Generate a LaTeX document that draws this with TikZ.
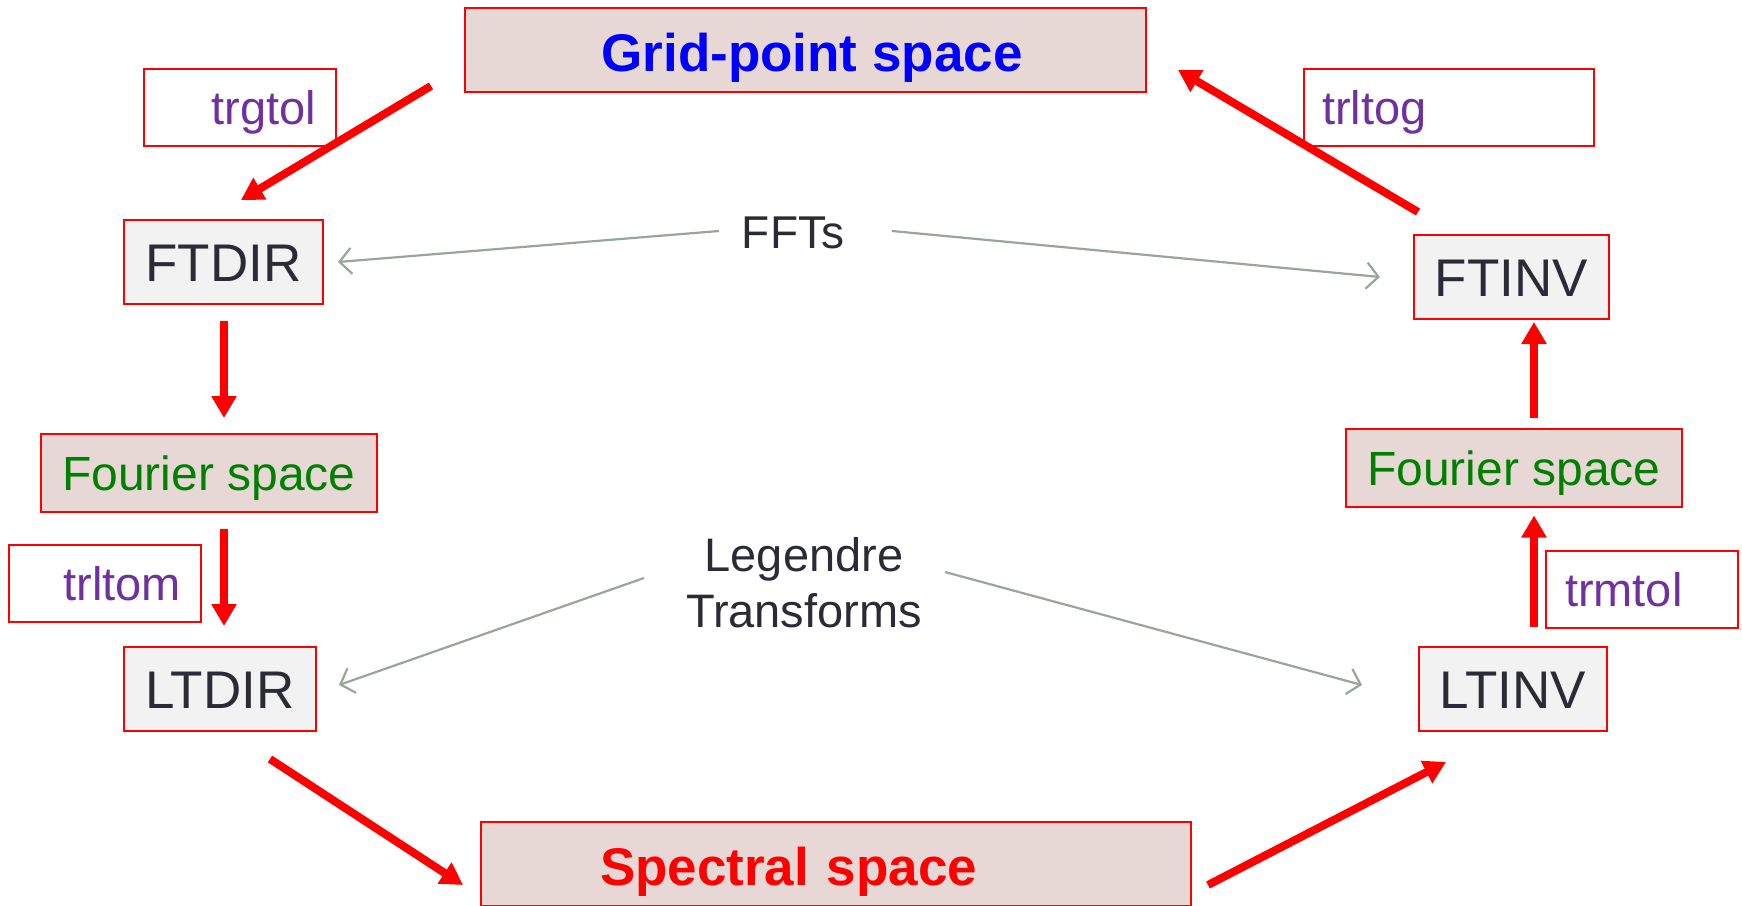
\documentclass[tikz,border=0pt]{standalone}
\usepackage{fontspec}
\setmainfont{Liberation Sans}
\usetikzlibrary{arrows.meta,calc}
\definecolor{boxred}{HTML}{FF0000}
\definecolor{spacefill}{HTML}{E8D8D5}
\definecolor{opfill}{HTML}{F2F2F2}
\definecolor{darktext}{HTML}{2B2B36}
\definecolor{purplec}{HTML}{7030A0}
\definecolor{greenc}{HTML}{008000}
\definecolor{gridblue}{HTML}{0000FF}
\definecolor{grayc}{HTML}{96A69B}
\newcommand\fntbig{\fontsize{53}{62}\selectfont\bfseries}
\newcommand\fntop{\fontsize{53}{60}\selectfont}
\newcommand\fntfour{\fontsize{48}{56}\selectfont}
\newcommand\fntlbl{\fontsize{47}{56}\selectfont}
\newcommand\fntffts{\fontsize{46}{56}\selectfont}
\tikzset{
  spacebox/.style={draw=boxred, line width=2pt, fill=spacefill, inner sep=0pt, font=\fntbig, text height=42pt, text depth=0pt},
  fourbox/.style={draw=boxred, line width=2pt, fill=spacefill, inner sep=0pt, font=\fntfour, text=greenc, text height=35.5pt, text depth=0pt, minimum width=336pt, minimum height=78pt},
  opbox/.style={draw=boxred, line width=2pt, fill=opfill, inner sep=0pt, font=\fntop, text=darktext, text height=39pt, text depth=0pt, minimum height=84pt},
  namebox/.style={draw=boxred, line width=2pt, fill=white, inner ysep=0pt, font=\fntlbl, text=purplec, text height=34pt, text depth=0pt, minimum height=77pt},
  flow/.style={draw=boxred, line width=8pt, -{Triangle[length=22pt,width=24pt]}},
  transf/.style={draw=grayc, line width=2.2pt, -{Straight Barb[length=12pt,width=26pt]}},
  plain/.style={font=\fntffts, text=darktext, inner sep=0pt}
}
\begin{document}
\begin{tikzpicture}[x=1pt,y=-1pt]
\path[use as bounding box, clip] (0,0) rectangle (1742,905);

% space boxes
\node[spacebox, text=gridblue, minimum width=681pt, minimum height=84pt] (grid) at (805.5,50) {\hspace*{13pt}Grid-point space};
\node[spacebox, text=boxred, minimum height=84pt, inner xsep=119pt, text width=472pt, align=left] (spectral) at (836,864) {Spectral space};
\node[fourbox] (fourL) at (209,473) {Fourier space};
\node[fourbox] (fourR) at (1514,467.5) {Fourier space};

% operator boxes
\node[opbox, minimum width=199pt] (ftdir) at (223.5,262) {FTDIR};
\node[opbox, minimum width=192pt] (ltdir) at (220,689) {LTDIR};
\node[opbox, minimum width=195pt] (ftinv) at (1511.5,277) {FTINV};
\node[opbox, minimum width=188pt] (ltinv) at (1513,689) {LTINV};

% routine name boxes
\node[namebox, inner xsep=20pt, text width=152pt, align=right] (trgtol) at (240,107.5) {trgtol};
\node[namebox, inner xsep=20pt, text width=152pt, align=right] (trltom) at (105,583) {trltom};
\node[namebox, inner xsep=18pt, text width=254pt, align=left] (trltog) at (1449,107.5) {trltog};
\node[namebox, inner xsep=19pt, text width=154pt, align=left] (trmtol) at (1642,589.5) {trmtol};

% transform labels
\node[plain, anchor=base] (ffts) at (793,248) {FFTs};
\node[plain, align=center, font=\fntlbl] (legendre) at (804,583) {Legendre\\Transforms};

% gray transform connectors
\draw[transf] ($(ffts.base)+(-74,-17)$) -- ($(ftdir.east)+(14,0)$);
\draw[transf] ($(ffts.base)+(99,-17)$) -- ($(ftinv.west)+(-33,0)$);
\draw[transf] ($(legendre.center)+(-160,-5)$) -- ($(ltdir.east)+(22,-4)$);
\draw[transf] ($(legendre.center)+(141,-11)$) -- ($(ltinv.west)+(-56,-4)$);

% red flow arrows
\draw[flow] ($(grid.south west)+(-33,-7)$) -- ($(ftdir.north)+(17.5,-19)$);
\draw[flow] ($(ftdir.south)+(0.5,16)$) -- ($(fourL.north)+(15,-15)$);
\draw[flow] ($(fourL.south)+(15,16)$) -- ($(ltdir.north)+(4,-20)$);
\draw[flow] ($(ltdir.south)+(50,27)$) -- ($(spectral.west)+(-17,21)$);
\draw[flow] ($(spectral.east)+(16,21)$) -- ($(ltinv.south)+(-67,30)$);
\draw[flow] ($(ltinv.north)+(21,-19)$) -- ($(fourR.south)+(20,8)$);
\draw[flow] ($(fourR.north)+(20,-10)$) -- ($(ftinv.south)+(22.5,2)$);
\draw[flow] ($(ftinv.north)+(-93.5,-22)$) -- ($(grid.east)+(31,20)$);
\end{tikzpicture}
\end{document}
